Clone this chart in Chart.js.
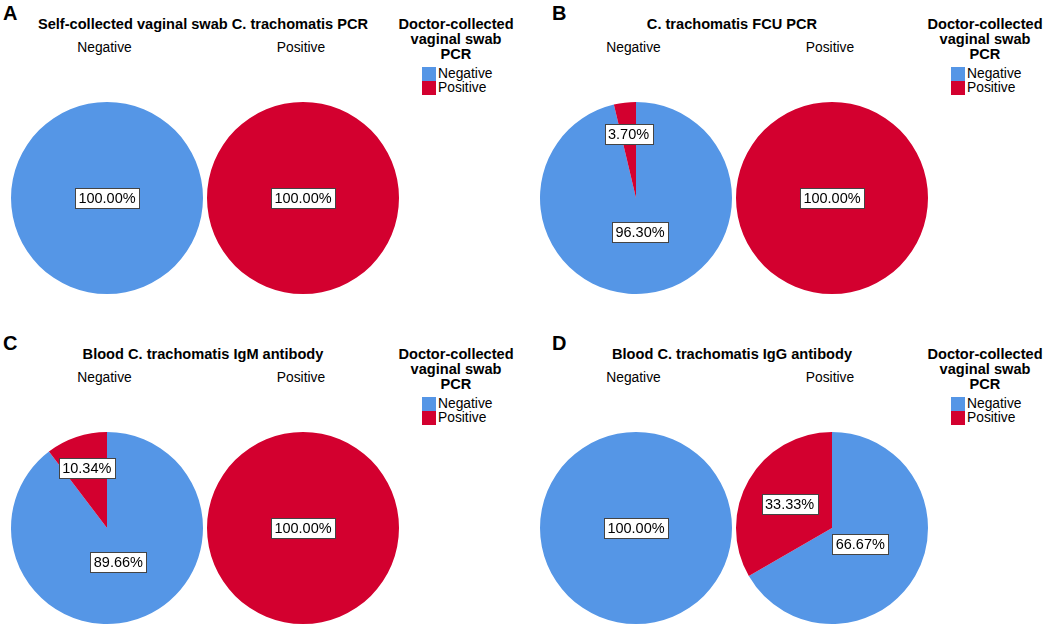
<!DOCTYPE html>
<html>
<head>
<meta charset="utf-8">
<script src="https://cdn.jsdelivr.net/npm/chart.js@4.4.1/dist/chart.umd.min.js"></script>
<style>
  body { margin: 0; background: #fff; font-family: "Liberation Sans", Arial, sans-serif; color: #000; }
  #wrap { position: relative; width: 1052px; height: 626px; overflow: hidden; }
  .abs { position: absolute; white-space: nowrap; }
  .letter { font-weight: bold; font-size: 20px; line-height: 20px; }
  .title { font-weight: bold; font-size: 14.6px; line-height: 16px; transform: translateX(-50%); }
  .sub { font-size: 13.8px; line-height: 16px; transform: translateX(-50%); }
  .ltitle { font-weight: bold; font-size: 14.6px; line-height: 15px; text-align: center; transform: translateX(-50%); }
  .litem { font-size: 13.8px; line-height: 14px; display: flex; align-items: center; }
  .sw { width: 14px; height: 14px; margin-right: 2px; }
  canvas { position: absolute; }
</style>
</head>
<body>
<div id="wrap"></div>
<script>
// categories of the row variable (one pie each) and of the legend variable
const pieGroups = ['Negative', 'Positive'];
const legendLabels = ['Negative', 'Positive'];
const legendTitle = 'Doctor-collected\nvaginal swab\nPCR';

const panelLetters = ['A', 'B', 'C', 'D'];
const panelTitles = [
  'Self-collected vaginal swab C. trachomatis PCR',
  'C. trachomatis FCU PCR',
  'Blood C. trachomatis IgM antibody',
  'Blood C. trachomatis IgG antibody'
];

// percentages [Negative, Positive] for the Negative pie and the Positive pie
const panelA = [[100, 0], [0, 100]];
const panelB = [[96.30, 3.70], [0, 100]];
const panelC = [[89.66, 10.34], [0, 100]];
const panelD = [[100, 0], [66.67, 33.33]];
const panelData = [panelA, panelB, panelC, panelD];

const colors = ['#5596e6', '#d3002f'];

// label distance from centre, as a share of the radius, per pie
const labelRadius = [
  [[0, 0], [0, 0]],
  [[0.36, 0.67], [0, 0]],
  [[0.37, 0.66], [0, 0]],
  [[0, 0], [0.34, 0.51]]
];

const sliceLabels = {
  id: 'sliceLabels',
  afterDatasetsDraw(chart, args, opts) {
    const ctx = chart.ctx;
    const values = chart.data.datasets[0].data;
    const total = values.reduce((a, b) => a + b, 0);
    chart.getDatasetMeta(0).data.forEach((arc, i) => {
      const v = values[i];
      if (!v) return;
      const p = arc.getProps(['x', 'y', 'startAngle', 'endAngle', 'outerRadius'], true);
      const mid = (p.startAngle + p.endAngle) / 2;
      const f = v === total ? 0 : opts.radius[i];
      const lx = p.x + Math.cos(mid) * p.outerRadius * f;
      const ly = p.y + Math.sin(mid) * p.outerRadius * f;
      const text = (v / total * 100).toFixed(2) + '%';
      ctx.save();
      ctx.font = '14.5px "Liberation Sans", Arial, sans-serif';
      const w = Math.round(ctx.measureText(text).width + 7);
      const h = 20;
      const x0 = Math.round(lx - w / 2) + 0.5, y0 = Math.round(ly - h / 2) + 0.5;
      ctx.fillStyle = '#fff';
      ctx.fillRect(x0, y0, w, h);
      ctx.strokeStyle = '#444';
      ctx.lineWidth = 1;
      ctx.strokeRect(x0, y0, w, h);
      ctx.fillStyle = '#000';
      ctx.textAlign = 'center';
      ctx.textBaseline = 'middle';
      ctx.fillText(text, lx, ly + 1);
      ctx.restore();
    });
  }
};

const wrap = document.getElementById('wrap');
function addText(cls, text, left, top) {
  const d = document.createElement('div');
  d.className = 'abs ' + cls;
  d.style.left = left + 'px';
  d.style.top = top + 'px';
  d.innerText = text;
  wrap.appendChild(d);
  return d;
}

const offsets = [[0, 0], [529, 0], [0, 330], [529, 330]];
const letterX = [3, 552, 3, 552];
const pieX = [106.5, 303];
const pieY = 198;

panelData.forEach((pies, p) => {
  const [ox, oy] = offsets[p];
  addText('letter', panelLetters[p], letterX[p], oy + 3);
  addText('title', panelTitles[p], ox + 203, oy + 16);
  pieGroups.forEach((g, k) => addText('sub', g, ox + pieX[k] - 2, oy + 40));

  const lt = addText('ltitle', '', ox + 456, oy + 17);
  lt.innerText = legendTitle;
  legendLabels.forEach((lab, k) => {
    const it = document.createElement('div');
    it.className = 'abs litem';
    it.style.left = (ox + 422) + 'px';
    it.style.top = (oy + 67 + k * 14) + 'px';
    it.innerHTML = '<span class="sw" style="background:' + colors[k] + '"></span><span></span>';
    it.lastChild.textContent = lab;
    wrap.appendChild(it);
  });

  pies.forEach((vals, k) => {
    const c = document.createElement('canvas');
    c.width = 200; c.height = 200;
    c.style.left = (ox + pieX[k] - 100) + 'px';
    c.style.top = (oy + pieY - 100) + 'px';
    wrap.appendChild(c);
    new Chart(c, {
      type: 'pie',
      data: {
        labels: legendLabels,
        datasets: [{ data: vals, backgroundColor: colors, borderWidth: 0 }]
      },
      options: {
        responsive: false,
        animation: false,
        layout: { padding: 4 },
        plugins: {
          legend: { display: false },
          tooltip: { enabled: false },
          sliceLabels: { radius: labelRadius[p][k] }
        }
      },
      plugins: [sliceLabels]
    });
  });
});
</script>
</body>
</html>
